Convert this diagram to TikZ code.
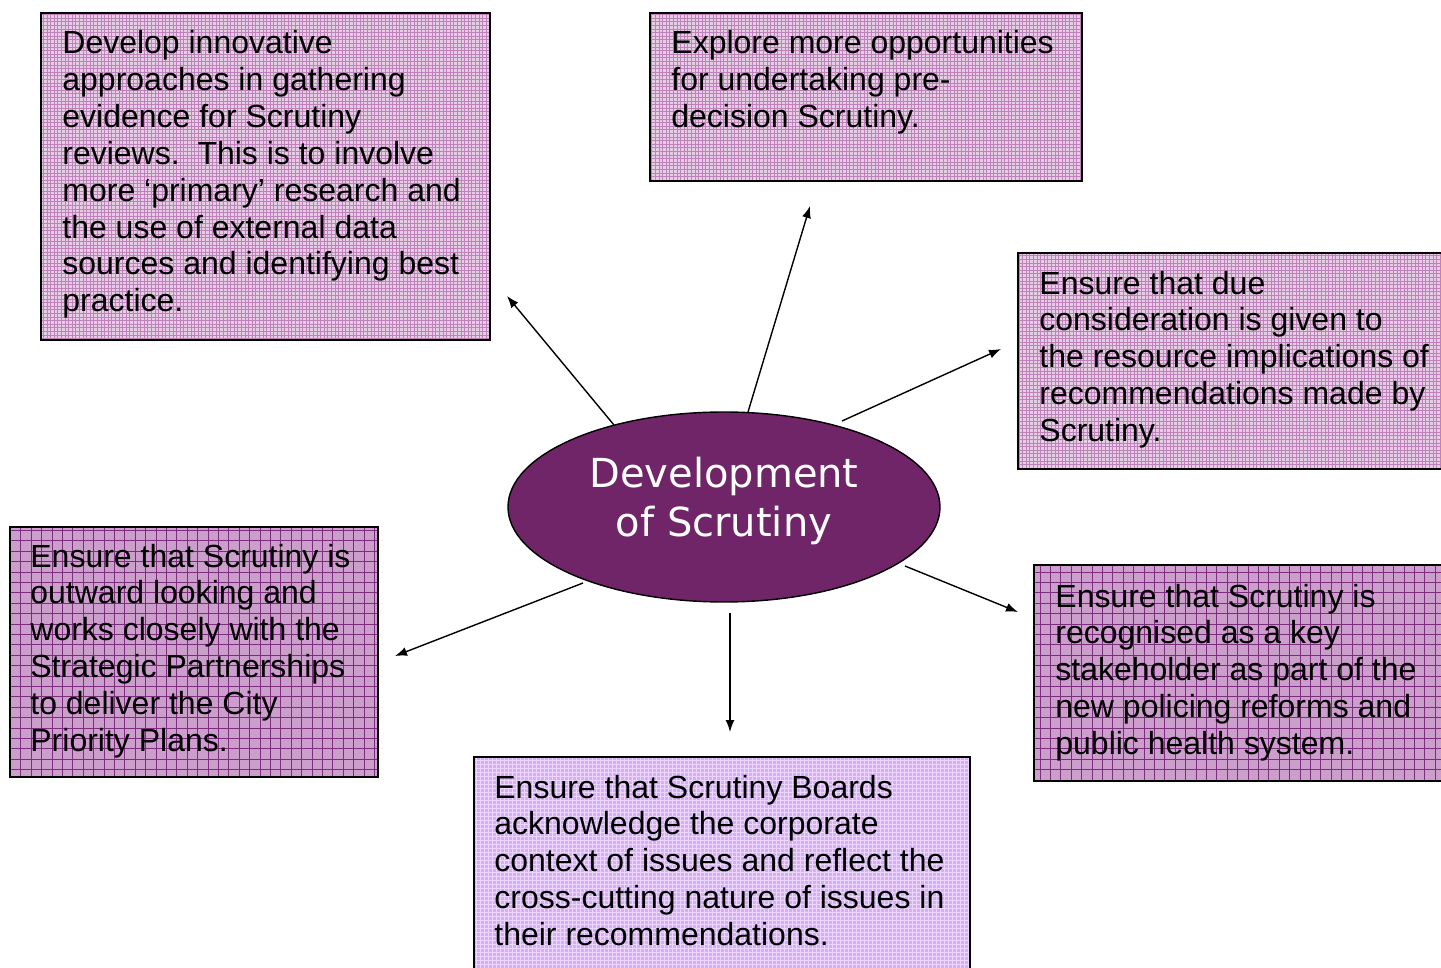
\documentclass[tikz,border=0pt]{standalone}
\usepackage{fontspec}
\setmainfont{Liberation Sans}
\newfontfamily\ellfont{DejaVu Sans}
\usetikzlibrary{arrows.meta,shapes.geometric}

\definecolor{pinkfill}{RGB}{230,204,228}
\definecolor{pinkgrid}{RGB}{190,130,186}
\definecolor{plumfill}{RGB}{204,158,204}
\definecolor{plumgrid}{RGB}{125,45,125}
\definecolor{lilacfill}{RGB}{214,174,246}
\definecolor{lilacgrid}{RGB}{236,214,255}
\definecolor{hubfill}{RGB}{112,37,105}

\tikzset{
  boxtext/.style={anchor=base west, inner sep=0pt, align=left,
    font=\fontsize{16}{18.4}\selectfont},
  hub/.style={ellipse, draw=black, line width=0.7pt, fill=hubfill,
    minimum width=216pt, minimum height=95pt, inner sep=0pt},
  hubtext/.style={text=white, align=center, inner sep=0pt,
    font=\ellfont\fontsize{20}{24.5}\selectfont},
  link/.style={line width=0.7pt, -{Latex[length=6pt,width=4.5pt]}},
  frame/.style={draw=black, line width=0.75pt}
}

% a box filled with a colour and a woven grid (x1,y1,x2,y2,fill,grid style)
\newcommand{\gridbox}[6]{%
  \begin{scope}
    \clip (#1,#2) rectangle (#3,#4);
    \fill[#5] (#1,#2) rectangle (#3,#4);
    \draw[#6] (#1,#4) grid (#3,#2);
  \end{scope}
  \draw[frame] (#1,#2) rectangle (#3,#4);
}

\begin{document}
\begin{tikzpicture}[x=0.5pt,y=-0.5pt]
\useasboundingbox (0,0) rectangle (1441,968);
\fill[white] (0,0) rectangle (1441,968);

% boxes
\gridbox{41}{13}{490}{340}{pinkfill}{pinkgrid,step=1.8pt,line width=0.2pt}
\gridbox{650}{13}{1082}{181}{pinkfill}{pinkgrid,step=1.8pt,line width=0.2pt}
\gridbox{1018}{253}{1460}{469}{pinkfill}{pinkgrid,step=1.8pt,line width=0.2pt}
\gridbox{10}{527}{378}{777}{plumfill}{plumgrid,step=5.2pt,line width=0.45pt}
\gridbox{1034}{565}{1460}{781}{plumfill}{plumgrid,step=5.2pt,line width=0.45pt}
\gridbox{474}{757}{970}{990}{lilacfill}{lilacgrid,step=2pt,line width=0.3pt}

% box texts (positioned at the baseline of their last line)
\node[boxtext] (tInnov) at (62,311.6) {Develop innovative\\approaches in gathering\\evidence for Scrutiny\\reviews.\ \ This is to involve\\more ‘primary’ research and\\the use of external data\\sources and identifying best\\practice.};
\node[boxtext] (tPre) at (671,127.6) {Explore more opportunities\\for undertaking pre-\\decision Scrutiny.};
\node[boxtext] (tRes) at (1039,441.2) {Ensure that due\\consideration is given to\\the resource implications of\\recommendations made by\\Scrutiny.};
\node[boxtext] (tOut) at (30,751) {Ensure that Scrutiny is\\outward looking and\\works closely with the\\Strategic Partnerships\\to deliver the City\\Priority Plans.};
\node[boxtext] (tKey) at (1055,754.2) {Ensure that Scrutiny is\\recognised as a key\\stakeholder as part of the\\new policing reforms and\\public health system.};
\node[boxtext] (tCorp) at (494,945.2) {Ensure that Scrutiny Boards\\acknowledge the corporate\\context of issues and reflect the\\cross-cutting nature of issues in\\their recommendations.};

% central hub
\node[hub] (dev) at (724,507) {};
\node[hubtext] (devtext) at (724,501) {Development\\of Scrutiny};

% arrow ends
\coordinate (s1) at (614,425); \coordinate (e1) at (507,296);
\coordinate (s2) at (748,412); \coordinate (e2) at (810,206);
\coordinate (s3) at (842,421); \coordinate (e3) at (1001,349);
\coordinate (s4) at (583,583); \coordinate (e4) at (395,656);
\coordinate (s5) at (730,613); \coordinate (e5) at (730,732);
\coordinate (s6) at (905,566); \coordinate (e6) at (1018,612);

\draw[link] (s1) -- (e1);
\draw[link] (s2) -- (e2);
\draw[link] (s3) -- (e3);
\draw[link] (s4) -- (e4);
\draw[link] (s5) -- (e5);
\draw[link] (s6) -- (e6);
\end{tikzpicture}
\end{document}
